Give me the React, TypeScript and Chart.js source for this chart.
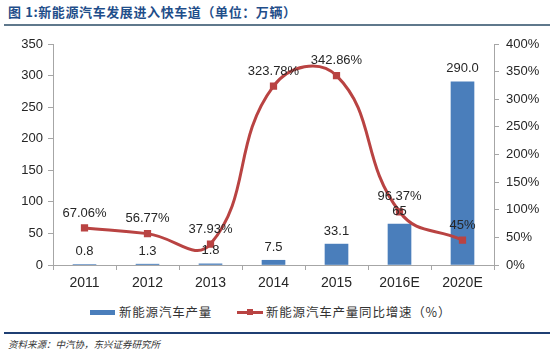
import React, { useEffect, useRef } from "react";
import { Chart, registerables } from "chart.js";
Chart.register(...registerables);

const categories = ["2011", "2012", "2013", "2014", "2015", "2016E", "2020E"];
const outputValues = [0.8, 1.3, 1.8, 7.5, 33.1, 65, 290.0];
const outputLabels = ["0.8", "1.3", "1.8", "7.5", "33.1", "65", "290.0"];
const growthValues = [67.06, 56.77, 37.93, 323.78, 342.86, 96.37, 45];
const growthLabels = ["67.06%", "56.77%", "37.93%", "323.78%", "342.86%", "96.37%", "45%"];
const leftMax = 350;
const rightMax = 400;
const tickStep = 50;

const BAR = "#4A7EBB";
const LINE = "#B94342";
const AXIS = "#a6a6a6";
const TEXT = "#262626";

const labelPlugin = {
  id: "valueLabels",
  afterDatasetsDraw(chart: any) {
    const ctx = chart.ctx;
    ctx.save();
    ctx.font = "13px 'Liberation Sans', Arial, sans-serif";
    ctx.fillStyle = TEXT;
    ctx.textAlign = "center";
    ctx.textBaseline = "middle";
    const barMeta = chart.getDatasetMeta(0);
    barMeta.data.forEach((el: any, i: number) => {
      ctx.fillText(outputLabels[i], el.x, el.y - 13);
    });
    const lineMeta = chart.getDatasetMeta(1);
    lineMeta.data.forEach((el: any, i: number) => {
      ctx.fillText(growthLabels[i], el.x, el.y - 15);
    });
    ctx.restore();
  },
};

export default function App() {
  const ref = useRef<HTMLCanvasElement>(null);
  useEffect(() => {
    if (!ref.current) return;
    const tickFont = { family: "'Liberation Sans', Arial, sans-serif", size: 13 };
    const chart = new Chart(ref.current, {
      type: "bar",
      data: {
        labels: categories,
        datasets: [
          {
            type: "bar",
            label: "新能源汽车产量",
            data: outputValues,
            backgroundColor: BAR,
            barThickness: 23,
            yAxisID: "y",
            order: 2,
          },
          {
            type: "line",
            label: "新能源汽车产量同比增速（%）",
            data: growthValues,
            borderColor: LINE,
            backgroundColor: LINE,
            borderWidth: 3,
            tension: 0.45,
            pointStyle: "rect",
            pointRadius: 3,
            pointBackgroundColor: LINE,
            pointBorderColor: LINE,
            yAxisID: "y1",
            order: 1,
            clip: false as any,
          } as any,
        ],
      },
      options: {
        responsive: false,
        animation: false,
        devicePixelRatio: 1,
        layout: { padding: { top: 44, left: 0, right: 0, bottom: 0 } },
        plugins: {
          legend: { display: false },
          tooltip: { enabled: false },
        },
        scales: {
          x: {
            afterFit: (s: any) => {
              s.height = 35;
            },
            ticks: { font: { ...tickFont, size: 14 }, color: TEXT, padding: 5 },
            grid: { drawOnChartArea: false, drawTicks: true, tickLength: 5, color: AXIS },
            border: { display: true, color: AXIS },
          },
          y: {
            position: "left",
            min: 0,
            max: leftMax,
            afterFit: (s: any) => {
              s.width = 53;
            },
            ticks: { stepSize: tickStep, font: tickFont, color: TEXT, padding: 5 },
            grid: { drawOnChartArea: false, drawTicks: true, tickLength: 5, color: AXIS },
            border: { display: true, color: AXIS },
          },
          y1: {
            position: "right",
            min: 0,
            max: rightMax,
            afterFit: (s: any) => {
              s.width = 56;
            },
            ticks: {
              stepSize: tickStep,
              font: tickFont,
              color: TEXT,
              padding: 7,
              callback: (v: any) => v + "%",
            },
            grid: { drawOnChartArea: false, drawTicks: true, tickLength: 5, color: AXIS },
            border: { display: true, color: AXIS },
          },
        },
      } as any,
      plugins: [labelPlugin],
    });
    return () => chart.destroy();
  }, []);

  const cjk = "'Noto Sans CJK SC', sans-serif";
  return (
    <div
      style={{
        position: "absolute",
        left: 0,
        top: 0,
        width: 550,
        height: 356,
        background: "#fff",
        overflow: "hidden",
      }}
    >
      <div
        style={{
          position: "absolute",
          left: 8,
          top: 3,
          fontFamily: cjk,
          fontWeight: "bold",
          fontSize: 13,
          letterSpacing: 0.6,
          color: "#1F4E8A",
          whiteSpace: "nowrap",
          lineHeight: "18px",
        }}
      >
        图 1:新能源汽车发展进入快车道（单位：万辆）
      </div>
      <div style={{ position: "absolute", left: 4, top: 24, width: 546, height: 2, background: "#5F788C" }} />
      <canvas ref={ref} width={550} height={300} style={{ position: "absolute", left: 0, top: 0, width: 550, height: 300 }} />
      <div style={{ position: "absolute", left: 90, top: 310, width: 25, height: 5, background: BAR }} />
      <div
        style={{
          position: "absolute",
          left: 119,
          top: 303,
          fontFamily: cjk,
          fontSize: 12.5,
          color: "#333",
          letterSpacing: 0.8,
          whiteSpace: "nowrap",
          lineHeight: "18px",
        }}
      >
        新能源汽车产量
      </div>
      <div style={{ position: "absolute", left: 237, top: 311, width: 26, height: 3, background: LINE }} />
      <div style={{ position: "absolute", left: 247, top: 309, width: 6, height: 6, background: LINE }} />
      <div
        style={{
          position: "absolute",
          left: 266,
          top: 303,
          fontFamily: cjk,
          fontSize: 12.5,
          color: "#333",
          letterSpacing: 0.8,
          whiteSpace: "nowrap",
          lineHeight: "18px",
        }}
      >
        新能源汽车产量同比增速（%）
      </div>
      <div style={{ position: "absolute", left: 4, top: 332, width: 546, height: 2, background: "#1F3F73" }} />
      <div
        style={{
          position: "absolute",
          left: 8,
          top: 337,
          fontFamily: cjk,
          fontSize: 9.5,
          fontStyle: "italic",
          color: "#333",
          whiteSpace: "nowrap",
          lineHeight: "14px",
        }}
      >
        资料来源：中汽协，东兴证券研究所
      </div>
    </div>
  );
}
